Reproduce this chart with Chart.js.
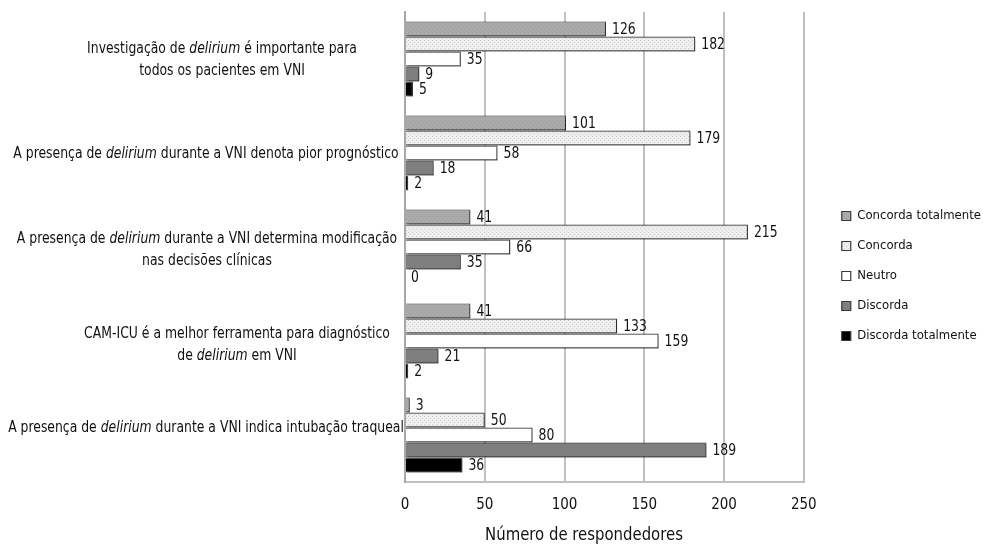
<!DOCTYPE html>
<html>
<head>
<meta charset="utf-8">
<script src="https://cdn.jsdelivr.net/npm/chart.js@4.4.1/dist/chart.umd.min.js"></script>
<style>
  html, body { margin: 0; padding: 0; background: #fff; }
  #wrap { width: 983px; height: 545px; position: relative; }
</style>
</head>
<body>
<div id="wrap"><canvas id="chart"></canvas></div>
<script>
// ================= DATA =================
const categoryLines = [
    ["Investigação de *delirium* é importante para", "todos os pacientes em VNI"],
    ["A presença de *delirium* durante a VNI denota pior prognóstico"],
    ["A presença de *delirium* durante a VNI determina modificação", "nas decisões clínicas"],
    ["CAM-ICU é a melhor ferramenta para diagnóstico", "de *delirium* em VNI"],
    ["A presença de *delirium* durante a VNI indica intubação traqueal"],
];
const seriesNames = ["Concorda totalmente", "Concorda", "Neutro", "Discorda", "Discorda totalmente"];
const concordaTotalmente = [126, 101, 41, 41, 3];
const concorda = [182, 179, 215, 133, 50];
const neutro = [35, 58, 66, 159, 80];
const discorda = [9, 18, 35, 21, 189];
const discordaTotalmente = [5, 2, 0, 2, 36];
const xTicks = [0, 50, 100, 150, 200, 250];
const xTitle = "Número de respondedores";

// label layout (center x of each label block, small y nudges)
const labelCenterX = [222, 206, 207, 237, 206];
const labelNudgeY = [1, 1, 3, 4, -7];

const FONT = "'DejaVu Sans Condensed', 'Liberation Sans Narrow', sans-serif";
const SQUEEZE = 0.92;

const makePattern = (bg, dot) => {
    const c = document.createElement("canvas");
    c.width = 4;
    c.height = 4;
    const g = c.getContext("2d");
    g.fillStyle = bg;
    g.fillRect(0, 0, 4, 4);
    g.fillStyle = dot;
    g.fillRect(0, 0, 1, 1);
    g.fillRect(2, 2, 1, 1);
    return g.createPattern(c, "repeat");
};

const fills = [
    makePattern("#ababab", "#9a9a9a"),
    makePattern("#eeeeee", "#cfcfcf"),
    "#ffffff",
    "#7f7f7f",
    "#000000",
];
const seriesData = [concordaTotalmente, concorda, neutro, discorda, discordaTotalmente];

// ================= TEXT HELPERS =================
const squeezeText = (ctx, text, x, y) => {
    ctx.save();
    ctx.translate(x, y);
    ctx.scale(SQUEEZE, 1);
    ctx.fillText(text, 0, 0);
    ctx.restore();
};
const richParts = (text) => text.split("*").map((p, i) => ({ text: p, italic: i % 2 === 1 }));
const richWidth = (ctx, text) => {
    let w = 0;
    richParts(text).forEach((p) => {
        ctx.font = (p.italic ? "italic " : "") + "15px " + FONT;
        w += ctx.measureText(p.text).width * SQUEEZE;
    });
    return w;
};
const drawRich = (ctx, text, x, y) => {
    let cx = x;
    richParts(text).forEach((p) => {
        ctx.font = (p.italic ? "italic " : "") + "15px " + FONT;
        squeezeText(ctx, p.text, cx, y);
        cx += ctx.measureText(p.text).width * SQUEEZE;
    });
};

// ================= PLUGINS =================
const categoryLabels = {
    id: "categoryLabels",
    afterDraw(chart) {
        const ctx = chart.ctx;
        const y = chart.scales.y;
        ctx.save();
        ctx.fillStyle = "#111";
        ctx.textBaseline = "middle";
        ctx.textAlign = "left";
        categoryLines.forEach((lines, i) => {
            const cy = y.getPixelForValue(i) + labelNudgeY[i];
            const lh = 22;
            lines.forEach((line, j) => {
                const w = richWidth(ctx, line);
                const ly = cy + (j - (lines.length - 1) / 2) * lh;
                drawRich(ctx, line, labelCenterX[i] - w / 2, ly);
            });
        });
        // x axis title
        ctx.font = "18px " + FONT;
        const tw = ctx.measureText(xTitle).width * SQUEEZE;
        squeezeText(ctx, xTitle, 584 - tw / 2, 535);
        ctx.restore();
    },
};

const valueLabels = {
    id: "valueLabels",
    afterDatasetsDraw(chart) {
        const ctx = chart.ctx;
        ctx.save();
        ctx.font = "15px " + FONT;
        ctx.fillStyle = "#111";
        ctx.textBaseline = "middle";
        ctx.textAlign = "left";
        chart.data.datasets.forEach((ds, di) => {
            chart.getDatasetMeta(di).data.forEach((el, i) => {
                squeezeText(ctx, String(ds.data[i]), el.x + 6, el.y + 1);
            });
        });
        ctx.restore();
    },
};

const barShadow = {
    id: "barShadow",
    beforeDatasetsDraw(chart) {
        const ctx = chart.ctx;
        ctx.save();
        ctx.shadowColor = "rgba(0,0,0,0.35)";
        ctx.shadowBlur = 2;
        ctx.shadowOffsetX = 1.5;
        ctx.shadowOffsetY = 1.5;
    },
    afterDatasetsDraw(chart) {
        chart.ctx.restore();
    },
};

// push the legend a bit further away from the plot
const legendGap = {
    id: "legendGap",
    afterLayout(chart) {
        if (chart.legend) {
            chart.legend.left += 21;
            chart.legend.right += 21;
            chart.legend.top += 6;
            chart.legend.bottom += 6;
        }
    },
};

// ================= CHART =================
new Chart(document.getElementById("chart"), {
    type: "bar",
    data: {
        labels: categoryLines.map((l) => l.join(" ").replace(/\*/g, "")),
        datasets: seriesNames.map((name, i) => ({
            label: name,
            data: seriesData[i],
            backgroundColor: fills[i],
            borderColor: "#3a3a3a",
            borderWidth: 1.2,
            borderSkipped: "start",
            categoryPercentage: 0.8,
            barPercentage: 1.0,
        })),
    },
    options: {
        indexAxis: "y",
        responsive: true,
        maintainAspectRatio: false,
        animation: false,
        layout: { padding: { top: 12, left: 0, right: 13, bottom: 17 } },
        scales: {
            x: {
                min: 0,
                max: 250,
                afterBuildTicks: (axis) => {
                    axis.ticks = xTicks.map((v) => ({ value: v }));
                },
                grid: { color: "#c0c0c0", lineWidth: 2, drawTicks: false },
                border: { display: true, color: "#c0c0c0", width: 2 },
                ticks: {
                    padding: 14,
                    color: "#111",
                    font: { family: FONT, size: 15 },
                },
            },
            y: {
                afterFit: (axis) => {
                    axis.width = 405;
                },
                grid: { display: false, drawTicks: false },
                border: { display: true, color: "#a8a8a8", width: 2 },
                ticks: { display: false },
            },
        },
        plugins: {
            tooltip: { enabled: false },
            legend: {
                position: "right",
                align: "center",
                labels: {
                    boxWidth: 9,
                    boxHeight: 9,
                    padding: 17,
                    color: "#111",
                    font: { family: FONT, size: 13 },
                },
            },
        },
    },
    plugins: [barShadow, valueLabels, categoryLabels, legendGap],
});
</script>
</body>
</html>
